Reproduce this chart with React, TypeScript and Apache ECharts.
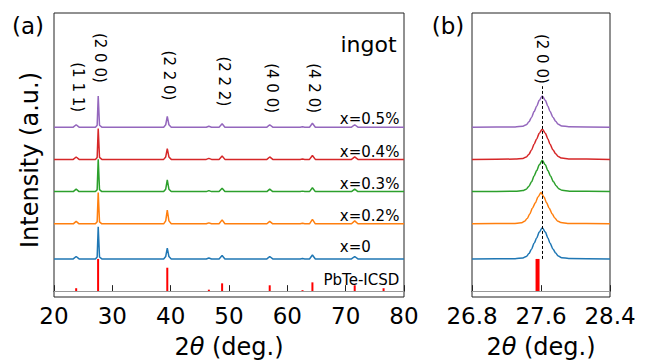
import React, { useEffect, useRef } from 'react';
import * as echarts from 'echarts';

const FONT = 'DejaVu Sans';
const COLORS = ['#1f77b4', '#ff7f0e', '#2ca02c', '#d62728', '#9467bd'];
const sampleNames = ['x=0', 'x=0.2%', 'x=0.3%', 'x=0.4%', 'x=0.5%'];
// vertical offsets of each stacked pattern (a.u.)
const offsets = [33, 69, 102, 135, 168];

// Panel (a): full-range patterns, [2θ, intensity above own baseline]
const patA_x0 = [[20,0],[23.3,0],[23.8,2.5],[24.3,0],[27.1,0],[27.4,2],[27.58,33],[27.8,2],[28.2,0],[38.8,0],[39.15,2.5],[39.42,11],[39.7,2.5],[40.1,0],[46.1,0],[46.55,1],[47.0,0],[48.3,0],[48.82,3.5],[49.3,0],[56.5,0],[56.98,2.5],[57.5,0],[62.2,0],[62.6,0.5],[63.0,0],[63.8,0],[64.3,4],[64.8,0],[71.0,0],[71.55,2.5],[72.1,0],[80,0]];
const patA_x02 = [[20,0],[23.3,0],[23.8,2.5],[24.3,0],[27.1,0],[27.4,2],[27.58,32],[27.8,2],[28.2,0],[38.8,0],[39.15,3],[39.42,14],[39.7,3],[40.1,0],[46.1,0],[46.55,1],[47.0,0],[48.3,0],[48.82,4],[49.3,0],[56.5,0],[56.98,2.5],[57.5,0],[62.2,0],[62.6,0.5],[63.0,0],[63.8,0],[64.3,4.5],[64.8,0],[71.0,0],[71.55,3],[72.1,0],[80,0]];
const patA_x03 = [[20,0],[23.3,0],[23.8,2.5],[24.3,0],[27.1,0],[27.4,2],[27.58,33],[27.8,2],[28.2,0],[38.8,0],[39.15,2.5],[39.42,12],[39.7,2.5],[40.1,0],[46.1,0],[46.55,1],[47.0,0],[48.3,0],[48.82,3.5],[49.3,0],[56.5,0],[56.98,2.5],[57.5,0],[62.2,0],[62.6,0.5],[63.0,0],[63.8,0],[64.3,4],[64.8,0],[71.0,0],[71.55,2.5],[72.1,0],[80,0]];
const patA_x04 = [[20,0],[23.3,0],[23.8,2.5],[24.3,0],[27.1,0],[27.4,2],[27.58,31.5],[27.8,2],[28.2,0],[38.8,0],[39.15,2.5],[39.42,11],[39.7,2.5],[40.1,0],[46.1,0],[46.55,1],[47.0,0],[48.3,0],[48.82,3.5],[49.3,0],[56.5,0],[56.98,2.5],[57.5,0],[62.2,0],[62.6,0.5],[63.0,0],[63.8,0],[64.3,4],[64.8,0],[71.0,0],[71.55,2.5],[72.1,0],[80,0]];
const patA_x05 = [[20,0],[23.3,0],[23.8,2.5],[24.3,0],[27.1,0],[27.4,2],[27.58,32],[27.8,2],[28.2,0],[38.8,0],[39.15,2.5],[39.42,11],[39.7,2.5],[40.1,0],[46.1,0],[46.55,1],[47.0,0],[48.3,0],[48.82,3.5],[49.3,0],[56.5,0],[56.98,2.5],[57.5,0],[62.2,0],[62.6,0.5],[63.0,0],[63.8,0],[64.3,4],[64.8,0],[71.0,0],[71.55,2.5],[72.1,0],[80,0]];
const patternsA = [patA_x0, patA_x02, patA_x03, patA_x04, patA_x05];

// Panel (b): (200) reflection close-up
const patB_x0 = [[26.8,0],[27.3,0.3],[27.39,1],[27.43,2.5],[27.46,5.5],[27.49,10],[27.52,16],[27.55,21.5],[27.58,27.5],[27.615,32],[27.65,27.5],[27.68,21.5],[27.705,16],[27.74,10],[27.77,6],[27.8,3],[27.84,1.3],[27.92,0.4],[28.4,0]];
const patB_x02 = [[26.8,0],[27.28,0.3],[27.37,1],[27.41,2.5],[27.44,5.5],[27.47,10],[27.5,16],[27.535,21.5],[27.565,27.5],[27.6,32],[27.635,27.5],[27.665,21.5],[27.695,16],[27.73,10],[27.76,6],[27.79,3],[27.83,1.3],[27.91,0.4],[28.4,0]];
const patB_x03 = [[26.8,0],[27.3,0.3],[27.39,1],[27.43,2.5],[27.46,5.5],[27.49,10],[27.52,16],[27.55,21.5],[27.58,27.5],[27.615,32],[27.65,27.5],[27.68,21.5],[27.71,16],[27.745,10],[27.775,6],[27.805,3],[27.845,1.3],[27.93,0.4],[28.4,0]];
const patB_x04 = [[26.8,0],[27.3,0.3],[27.39,1],[27.43,2.5],[27.46,5.3],[27.49,9.6],[27.52,15.5],[27.55,21],[27.58,26.8],[27.615,31],[27.65,26.8],[27.68,21],[27.705,15.5],[27.74,9.6],[27.77,5.8],[27.8,2.9],[27.84,1.3],[27.92,0.4],[28.4,0]];
const patB_x05 = [[26.8,0],[27.3,0.3],[27.39,1],[27.43,2.5],[27.46,5.5],[27.49,10],[27.52,16],[27.55,21.5],[27.58,27.5],[27.615,32],[27.65,27.5],[27.68,21.5],[27.705,16],[27.74,10],[27.77,6],[27.8,3],[27.84,1.3],[27.92,0.4],[28.4,0]];
const patternsB = [patB_x0, patB_x02, patB_x03, patB_x04, patB_x05];

// PbTe reference (ICSD) stick pattern
const icsdPos = [23.8, 27.56, 39.42, 46.55, 48.82, 56.98, 62.6, 64.3, 71.55, 76.5];
const icsdInt = [3, 33, 24, 1.5, 8, 6, 1, 9, 6, 3];

// Miller-index annotations
const hklText = ['(1 1 1)', '(2 0 0)', '(2 2 0)', '(2 2 2)', '(4 0 0)', '(4 2 0)'];
const hklPos = [23.8, 27.58, 39.42, 48.82, 56.98, 64.3];

const peakB = 27.615;

export default function App() {
  const ref = useRef<HTMLDivElement>(null);
  useEffect(() => {
    if (!ref.current) return;
    const chart = echarts.init(ref.current, undefined, { renderer: 'svg' });
    const axisLabelStyle = { fontSize: 23, color: '#000', fontFamily: FONT };
    const nameStyle = {
      fontSize: 24, color: '#000', fontFamily: FONT,
      rich: { i: { fontSize: 24, fontStyle: 'italic', fontFamily: FONT, color: '#000' } },
    };
    const yBase = {
      type: 'value', min: -6, max: 285,
      axisLine: { show: false }, axisTick: { show: false }, axisLabel: { show: false }, splitLine: { show: false },
    };
    const series: any[] = [];
    patternsA.forEach((p, i) => {
      series.push({
        type: 'line', xAxisIndex: 0, yAxisIndex: 0, showSymbol: false, symbol: 'none',
        data: p.map(([x, y]) => [x, y + offsets[i]]),
        lineStyle: { color: COLORS[i], width: 1.5 }, itemStyle: { color: COLORS[i] }, z: 3,
      });
    });
    series.push({
      type: 'bar', xAxisIndex: 0, yAxisIndex: 0, barWidth: 2,
      data: icsdPos.map((x, i) => [x, icsdInt[i]]),
      itemStyle: { color: '#ff0000' }, z: 2,
      markLine: {
        silent: true, symbol: ['none', 'none'], label: { show: false },
        lineStyle: { color: '#999', width: 1, type: 'solid' },
        data: [{ yAxis: 0 }],
      },
    });
    patternsB.forEach((p, i) => {
      const s: any = {
        type: 'line', xAxisIndex: 1, yAxisIndex: 1, showSymbol: false, symbol: 'none',
        smooth: 0.3, smoothMonotone: 'x',
        data: p.map(([x, y]) => [x, y + offsets[i]]),
        lineStyle: { color: COLORS[i], width: 1.5 }, itemStyle: { color: COLORS[i] }, z: 3,
      };
      if (i === 0) {
        s.markLine = {
          silent: true, symbol: ['none', 'none'], label: { show: false }, z: 5,
          lineStyle: { color: '#000', width: 1, type: [3, 2] },
          data: [[{ coord: [peakB, offsets[0]] }, { coord: [peakB, 210] }]],
        };
      }
      series.push(s);
    });
    series.push({
      type: 'bar', xAxisIndex: 1, yAxisIndex: 1, barWidth: 4,
      data: icsdPos.map((x, i) => [x, icsdInt[i]]).filter(([x]) => x > 26.8 && x < 28.4),
      itemStyle: { color: '#ff0000' }, z: 2,
      markLine: {
        silent: true, symbol: ['none', 'none'], label: { show: false },
        lineStyle: { color: '#999', width: 1, type: 'solid' },
        data: [{ yAxis: 0 }],
      },
    });

    chart.setOption({
      animation: false,
      backgroundColor: '#fff',
      grid: [
        { left: 54, top: 13, width: 350, height: 291, show: true, borderColor: '#222', borderWidth: 1, backgroundColor: 'transparent' },
        { left: 472, top: 13, width: 138, height: 291, show: true, borderColor: '#222', borderWidth: 1, backgroundColor: 'transparent' },
      ],
      xAxis: [
        {
          type: 'value', gridIndex: 0, min: 20, max: 80, interval: 10,
          axisLine: { show: true, lineStyle: { color: '#222' } },
          axisTick: { show: true, inside: true, length: 6, lineStyle: { color: '#222' } },
          axisLabel: { ...axisLabelStyle, margin: 7 },
          splitLine: { show: false },
          name: '2{i|θ} (deg.)', nameLocation: 'middle', nameGap: 38, nameTextStyle: nameStyle,
        },
        {
          type: 'value', gridIndex: 1, min: 26.8, max: 28.4,
          axisLine: { show: true, lineStyle: { color: '#222' } },
          axisTick: { show: true, inside: true, length: 6, lineStyle: { color: '#222' }, customValues: [26.8, 27.6, 28.4] },
          axisLabel: { ...axisLabelStyle, margin: 7, customValues: [26.8, 27.6, 28.4], formatter: (v: number) => v.toFixed(1), showMinLabel: true, showMaxLabel: true },
          splitLine: { show: false },
          name: '2{i|θ} (deg.)', nameLocation: 'middle', nameGap: 38, nameTextStyle: nameStyle,
        },
      ],
      yAxis: [{ ...yBase, gridIndex: 0 }, { ...yBase, gridIndex: 1 }],
      series,
    });

    const px = (g: number, x: number, y: number) => chart.convertToPixel({ gridIndex: g } as any, [x, y]) as number[];
    const graphics: any[] = [];
    const txt = (x: number, y: number, text: string, size: number, opts: any = {}) => ({
      type: 'text', x, y, rotation: opts.rotation || 0, z: 10,
      style: { text, fontSize: size, fontFamily: FONT, fill: '#000', align: opts.align || 'center', verticalAlign: 'middle' },
    });
    graphics.push(txt(28, 26, '(a)', 23));
    graphics.push(txt(448, 26, '(b)', 23));
    graphics.push(txt(30, 160, 'Intensity (a.u.)', 24, { rotation: Math.PI / 2 }));
    const hklY = [209, 239, 221, 215, 208, 208];
    hklText.forEach((t, i) => {
      const p = px(0, hklPos[i], hklY[i]);
      graphics.push(txt(p[0] + 2, p[1], t, 15, { rotation: -Math.PI / 2 }));
    });
    const pb = px(1, peakB, 238);
    graphics.push(txt(pb[0], pb[1], '(2 0 0)', 15, { rotation: -Math.PI / 2 }));
    const ing = px(0, 69.1, 253);
    graphics.push(txt(ing[0], ing[1], 'ingot', 22, { align: 'left' }));
    const lblGap = [12, 8, 8, 8, 8];
    sampleNames.forEach((t, i) => {
      const p = px(0, 69.0, offsets[i] + lblGap[i]);
      graphics.push(txt(p[0], p[1], t, 15, { align: 'left' }));
    });
    const ic = px(0, 66.2, 11);
    graphics.push(txt(ic[0], ic[1], 'PbTe-ICSD', 15, { align: 'left' }));
    chart.setOption({ graphic: graphics });

    return () => chart.dispose();
  }, []);
  return <div ref={ref} style={{ position: 'fixed', left: 0, top: 0, width: 649, height: 364 }} />;
}
